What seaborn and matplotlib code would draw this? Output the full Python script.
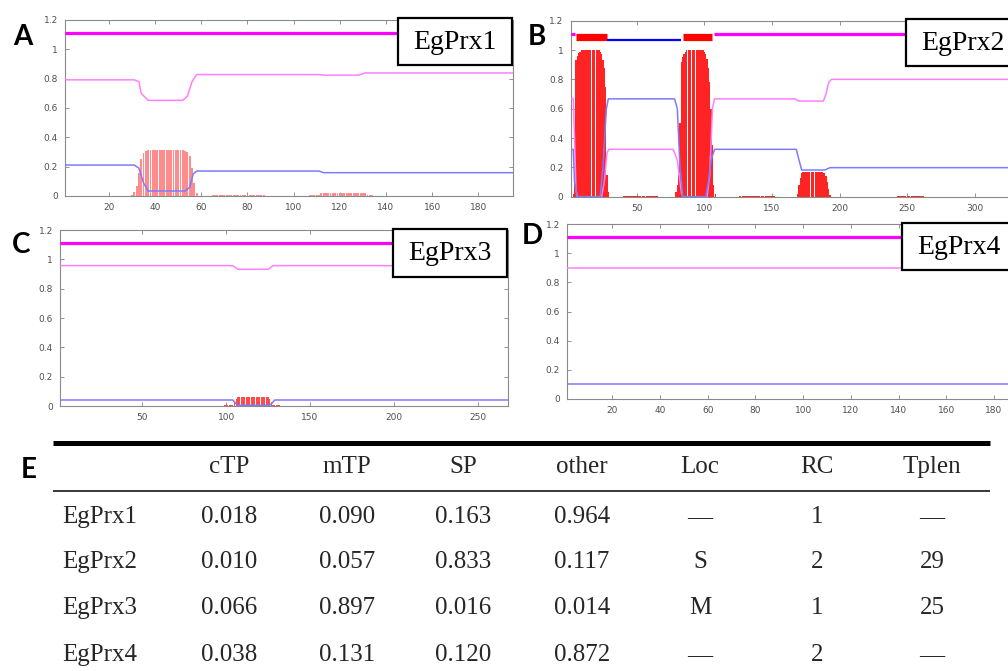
import matplotlib
matplotlib.use("Agg")
import matplotlib.pyplot as plt
from matplotlib.patches import Rectangle
import seaborn as sns
import pandas as pd

# ---------------------------------------------------------------- data
proteins = ["EgPrx1", "EgPrx2", "EgPrx3", "EgPrx4"]
panel_letters = ["A", "B", "C", "D"]
seq_len = [195, 340, 268, 195]

# topology strip at the top of each plot: (start, end, kind)
a_topology = [(1, 195, "outside")]
b_topology = [(1, 4, "outside"), (5, 28, "TM"), (28, 83, "inside"),
              (84, 106, "TM"), (107, 340, "outside")]
c_topology = [(1, 268, "outside")]
d_topology = [(1, 195, "outside")]

# probability of "outside" (pink) and "inside" (blue)
a_out_x = [1, 31, 33, 34, 37, 52, 54, 56, 58, 111, 113, 128, 131, 195]
a_out_y = [0.792, 0.792, 0.78, 0.70, 0.652, 0.652, 0.68, 0.78, 0.828, 0.828, 0.824, 0.824, 0.839, 0.839]
a_in_x = [1, 31, 33, 35, 37, 53, 55, 56.5, 58, 111, 113, 195]
a_in_y = [0.211, 0.211, 0.19, 0.09, 0.034, 0.034, 0.06, 0.15, 0.170, 0.170, 0.159, 0.159]

b_out_x = [1, 3, 4, 5, 6, 24, 26, 28, 29.5, 77, 80, 83, 84, 102, 104, 106, 107.5,
           167, 169, 171, 188, 190, 192, 194, 340]
b_out_y = [0.67, 0.67, 0.4, 0.05, 0.0, 0.0, 0.1, 0.3, 0.323, 0.323, 0.25, 0.03, 0.0, 0.0, 0.15, 0.6, 0.667,
           0.667, 0.655, 0.652, 0.652, 0.70, 0.78, 0.80, 0.80]
b_in_x = [1, 3, 4, 6, 23, 25, 27.5, 29, 78, 80, 82, 84, 101, 103, 105, 107.5,
          168, 170, 172, 189, 191, 193, 340]
b_in_y = [0.323, 0.323, 0.1, 0.0, 0.0, 0.2, 0.6, 0.667, 0.667, 0.6, 0.2, 0.0, 0.0, 0.1, 0.25, 0.323,
          0.323, 0.25, 0.182, 0.182, 0.19, 0.198, 0.198]

c_out_x = [1, 104, 106, 107, 125, 126, 128, 268]
c_out_y = [0.957, 0.957, 0.94, 0.932, 0.932, 0.94, 0.957, 0.957]
c_in_x = [1, 104, 106, 107, 126, 127, 129, 268]
c_in_y = [0.041, 0.041, 0.015, 0.005, 0.005, 0.015, 0.041, 0.041]

d_out_x = [1, 195]
d_out_y = [0.897, 0.897]
d_in_x = [1, 195]
d_in_y = [0.103, 0.103]

# transmembrane probability per residue (red impulses)
a_tm_pos = list(range(30, 59))
a_tm_val = [0.01, 0.03, 0.07, 0.16, 0.25, 0.29, 0.31,
            0.315, 0.315, 0.315, 0.315, 0.315, 0.315, 0.315, 0.315,
            0.315, 0.315, 0.315, 0.315, 0.315, 0.315, 0.315, 0.315,
            0.31, 0.30, 0.27, 0.19, 0.09, 0.02]
a_tm_low = [(65, 87, 0.004), (107, 111, 0.008), (112, 131, 0.018), (132, 134, 0.008)]

b_tm_pos = list(range(3, 30)) + list(range(79, 109)) + list(range(169, 194))
b_tm_val = [0.02, 0.11, 0.93, 0.96, 0.98, 0.99,
            1.0, 1.0, 1.0, 1.0, 1.0, 1.0, 1.0, 1.0, 1.0, 1.0, 1.0, 1.0, 1.0, 1.0,
            0.99, 0.97, 0.93, 0.88, 0.75, 0.15, 0.03,
            0.03, 0.08, 0.15, 0.5, 0.92, 0.95, 0.97, 0.99,
            1.0, 1.0, 1.0, 1.0, 1.0, 1.0, 1.0, 1.0, 1.0, 1.0, 1.0, 1.0, 1.0,
            0.99, 0.97, 0.94, 0.88, 0.78, 0.6, 0.35, 0.08, 0.02,
            0.02, 0.08, 0.13, 0.16,
            0.17, 0.17, 0.17, 0.17, 0.17, 0.17, 0.17, 0.17, 0.17, 0.17, 0.17, 0.17, 0.17, 0.17,
            0.168, 0.165, 0.16, 0.14, 0.10, 0.05, 0.015]
b_tm_low = [(40, 65, 0.004), (126, 152, 0.004), (243, 262, 0.004)]

c_tm_pos = list(range(104, 129))
c_tm_val = [0.01, 0.03, 0.05, 0.06,
            0.064, 0.064, 0.064, 0.064, 0.064, 0.064, 0.064, 0.064, 0.064,
            0.064, 0.064, 0.064, 0.064, 0.064, 0.064, 0.064, 0.064,
            0.06, 0.05, 0.03, 0.01]
c_tm_low = [(99, 103, 0.004), (129, 132, 0.004)]

d_tm_pos = []
d_tm_val = []
d_tm_low = [(36, 60, 0.003), (70, 95, 0.003)]

# table (panel E)
table_columns = ["cTP", "mTP", "SP", "other", "Loc", "RC", "Tplen"]
ctp = [0.018, 0.010, 0.066, 0.038]
mtp = [0.090, 0.057, 0.897, 0.131]
sp = [0.163, 0.833, 0.016, 0.120]
other = [0.964, 0.117, 0.014, 0.872]
loc = ["\u2014", "S", "M", "\u2014"]
rc = [1, 2, 1, 2]
tplen = ["\u2014", "29", "25", "\u2014"]

xticks_sets = [list(range(20, 181, 20)), list(range(50, 301, 50)),
               list(range(50, 251, 50)), list(range(20, 181, 20))]
yticks = [0, 0.2, 0.4, 0.6, 0.8, 1.0, 1.2]
ytick_labels = ["0", "0.2", "0.4", "0.6", "0.8", "1", "1.2"]

# ---------------------------------------------------------------- style
sns.set_theme(style="white")
plt.rcParams["font.family"] = ["DejaVu Sans"]

W, H = 1008, 671
fig = plt.figure(figsize=(W / 100, H / 100), dpi=100)
fig.patch.set_facecolor("white")

PINK = "#ff80ff"
BLUE = "#7b7bff"
MAG = "#ff00ff"
TOPCOL = {"outside": MAG, "inside": "#0000ff", "TM": "#ff0000"}
TOPY = {"outside": 1.11, "inside": 1.068, "TM": 1.088}
TOPLW = {"outside": 2.3, "inside": 1.6, "TM": 5.2}

# axes geometry in pixels: left, top, right, bottom
geoms = [(65, 20, 513, 196),
         (570.5, 20.7, 570.5 + 339 * 1.352, 196.7),
         (60, 230, 508, 406),
         (567, 224, 567 + 194 * 2.385, 399)]

# impulse look per panel: (colour, width)
bar_style = [("#ff8c8c", 0.8), ("#ff2424", 0.9), ("#ff4a4a", 0.8), ("#ff6060", 0.8)]

panels = [
    (a_topology, a_out_x, a_out_y, a_in_x, a_in_y, a_tm_pos, a_tm_val, a_tm_low),
    (b_topology, b_out_x, b_out_y, b_in_x, b_in_y, b_tm_pos, b_tm_val, b_tm_low),
    (c_topology, c_out_x, c_out_y, c_in_x, c_in_y, c_tm_pos, c_tm_val, c_tm_low),
    (d_topology, d_out_x, d_out_y, d_in_x, d_in_y, d_tm_pos, d_tm_val, d_tm_low),
]

for i, (topo, ox, oy, ix, iy, tpos, tval, tlow) in enumerate(panels):
    l, t, r, b = geoms[i]
    ax = fig.add_axes([l / W, 1 - b / H, (r - l) / W, (b - t) / H])
    # red TM impulses
    pos = list(tpos)
    val = list(tval)
    for s, e, h in tlow:
        for p in range(s, e + 1):
            pos.append(p)
            val.append(h)
    bc, bw = bar_style[i]
    if pos:
        ax.bar(pos, val, width=bw, color=bc, linewidth=0, zorder=1)
    # probability curves
    sns.lineplot(x=ox, y=oy, ax=ax, color=PINK, linewidth=1.1, sort=False, estimator=None, zorder=3)
    sns.lineplot(x=ix, y=iy, ax=ax, color=BLUE, linewidth=1.1, sort=False, estimator=None, zorder=3)
    # topology strip
    for s, e, kind in topo:
        sns.lineplot(x=[s, e], y=[TOPY[kind], TOPY[kind]], ax=ax, color=TOPCOL[kind],
                     linewidth=TOPLW[kind], sort=False, estimator=None, zorder=4,
                     solid_capstyle="butt")
    ax.set_xlim(1, seq_len[i])
    ax.set_ylim(0, 1.2)
    ax.set_xticks(xticks_sets[i])
    ax.set_yticks(yticks)
    ax.set_yticklabels(ytick_labels)
    ax.tick_params(axis="both", direction="in", length=3, width=0.6, color="#808080",
                   labelsize=6.5, labelcolor="#505050", top=True, right=True,
                   left=True, bottom=True, pad=5)
    for sp_ in ax.spines.values():
        sp_.set_color("#8a8a8a")
        sp_.set_linewidth(0.8)
    ax.set_xlabel("")
    ax.set_ylabel("")

# ---------------------------------------------------------------- overlay
ov = fig.add_axes([0, 0, 1, 1], zorder=10)
ov.set_xlim(0, W)
ov.set_ylim(H, 0)
ov.axis("off")
ov.patch.set_alpha(0)

serif = ["Liberation Serif", "DejaVu Serif"]
bold_sans = ["Lato", "DejaVu Sans"]

# name boxes
boxes = [(398, 18, 114, 47), (906, 19, 114, 47), (393, 229, 114, 48), (902, 223, 114, 47)]
for (bx, by, bw, bh), name in zip(boxes, proteins):
    ov.add_patch(Rectangle((bx, by), bw, bh, facecolor="white", edgecolor="black",
                           linewidth=1.6, zorder=11))
    ov.text(bx + bw / 2, by + bh / 2 + 1, name, ha="center", va="center",
            fontsize=20, family=serif, color="black", zorder=12)

# panel letters
letter_pos = [(23, 37), (537, 37), (21, 245), (532, 236), (29, 470)]
for (lx, ly), letter in zip(letter_pos, panel_letters + ["E"]):
    ov.text(lx, ly, letter, ha="center", va="center", fontsize=20,
            fontweight="bold", family=bold_sans, color="black")

# table
ov.plot([53, 990], [443, 443], color="black", linewidth=3.6, solid_capstyle="butt")
ov.plot([53, 990], [491, 491], color="black", linewidth=1.1, solid_capstyle="butt")

col_x = [100, 229, 347, 463, 582, 700, 817, 932]
head_y = 467
row_y = [517, 562, 608, 655]
tfs = 18
for cx, name in zip(col_x[1:], table_columns):
    ov.text(cx, head_y, name, ha="center", va="center", fontsize=tfs, family=serif)

table = pd.DataFrame({"name": proteins, "cTP": ctp, "mTP": mtp, "SP": sp,
                      "other": other, "Loc": loc, "RC": rc, "Tplen": tplen})
for r_i, row in table.iterrows():
    cells = [row["name"], f"{row['cTP']:.3f}", f"{row['mTP']:.3f}", f"{row['SP']:.3f}",
             f"{row['other']:.3f}", row["Loc"], str(row["RC"]), row["Tplen"]]
    for cx, txt in zip(col_x, cells):
        ov.text(cx, row_y[r_i], txt, ha="center", va="center", fontsize=tfs, family=serif)

fig.savefig("out.png", dpi=100)
